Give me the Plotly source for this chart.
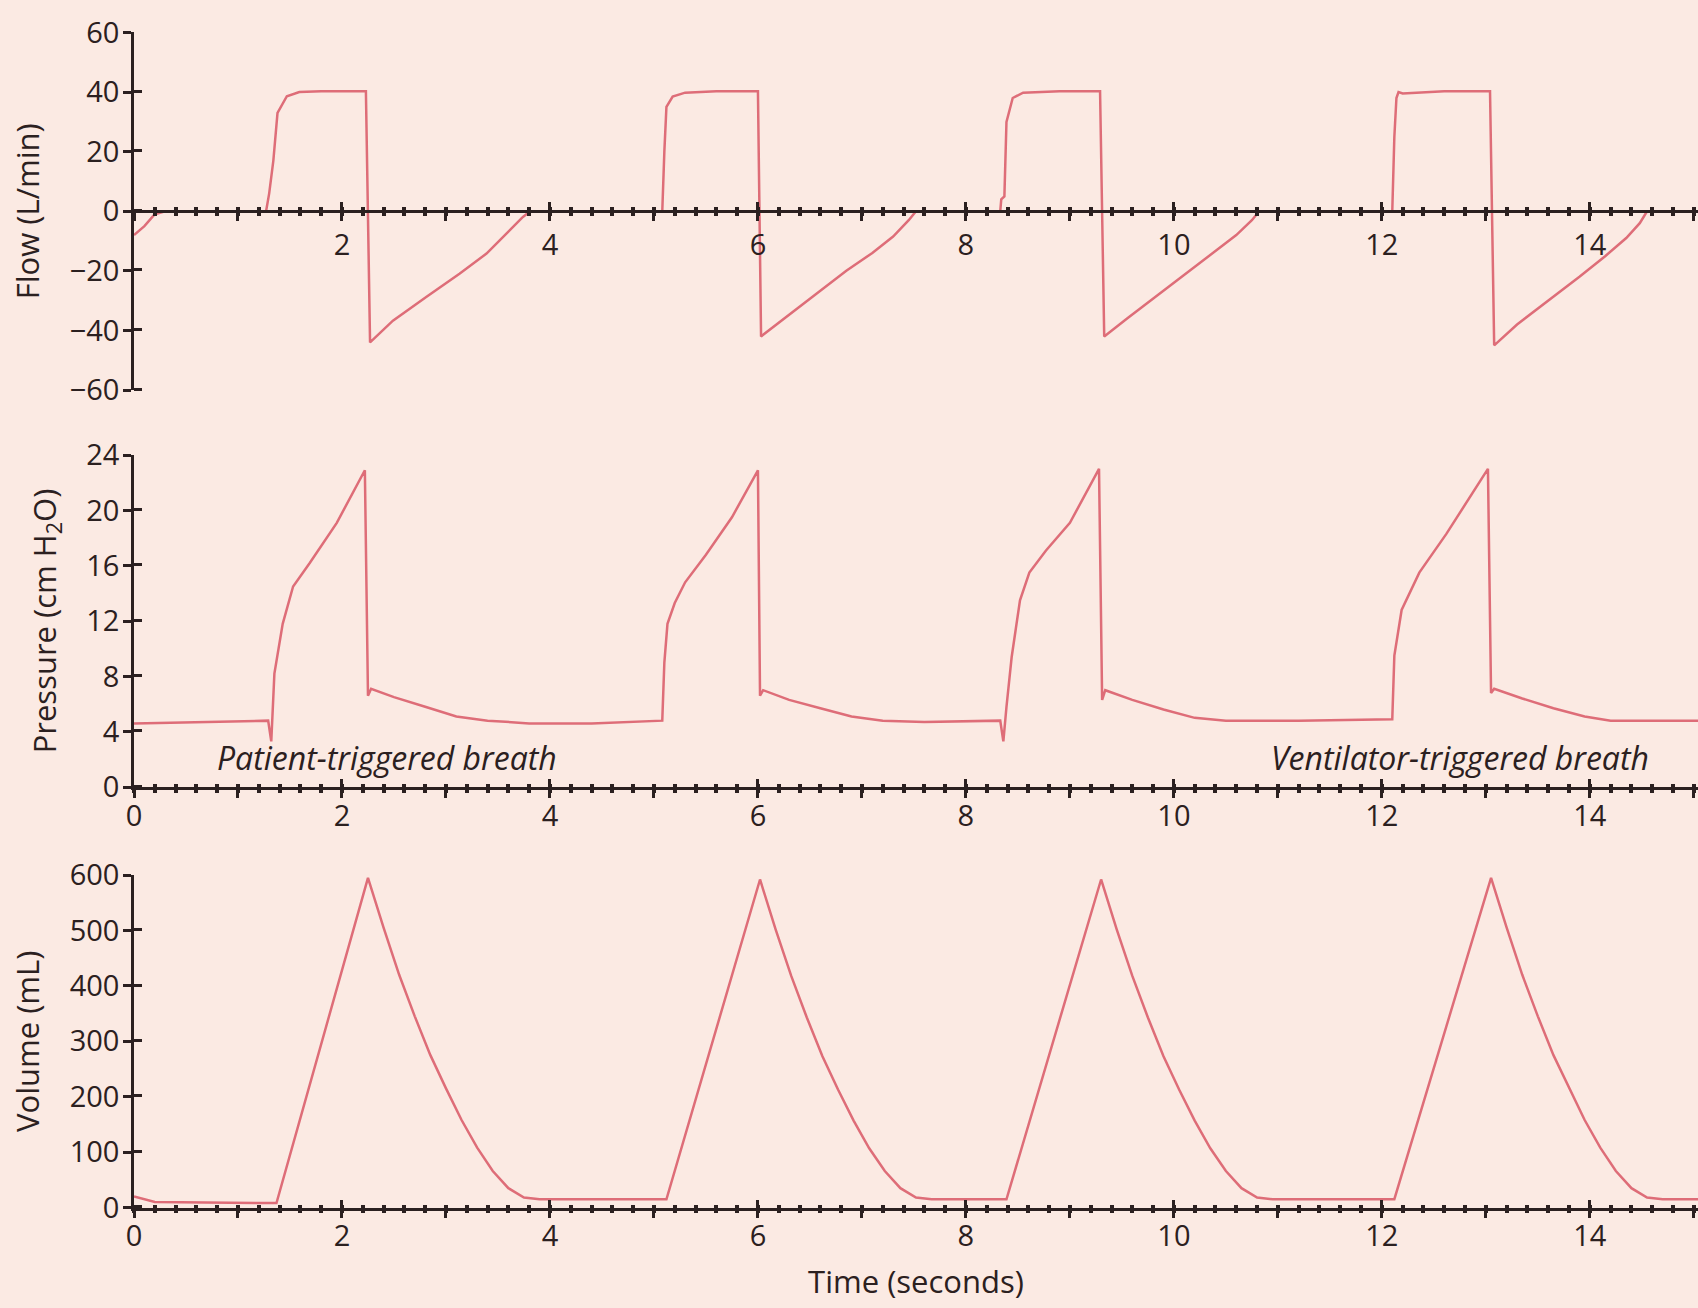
import plotly.graph_objects as go

# ---------------- data ----------------
flow_time = [0.00, 0.10, 0.20, 0.30, 1.27, 1.30, 1.34, 1.38, 1.47, 1.59, 1.80, 2.23, 2.27, 2.49, 2.81, 3.13, 3.39, 3.58, 3.74, 3.81,
             5.08, 5.10, 5.12, 5.18, 5.30, 5.60, 6.00, 6.03, 6.25, 6.55, 6.85, 7.10, 7.30, 7.45, 7.52,
             8.33, 8.34, 8.37, 8.39, 8.45, 8.55, 8.90, 9.29, 9.33, 9.55, 9.85, 10.15, 10.40, 10.60, 10.75, 10.82,
             12.10, 12.12, 12.14, 12.16, 12.20, 12.60, 13.04, 13.08, 13.30, 13.60, 13.90, 14.15, 14.35, 14.48, 14.55, 15.04]
flow_value = [-8, -5, -1, 0, 0, 6, 17, 33, 38.6, 40, 40.3, 40.3, -44, -36.7, -28.8, -21, -14.2, -7.5, -1.9, 0,
              0, 20, 35, 38.5, 39.8, 40.3, 40.3, -42, -36, -28, -20, -14, -8.5, -3, 0,
              0, 4, 5, 30, 38, 39.8, 40.3, 40.3, -42, -36, -28, -20, -13.5, -8, -3, 0,
              0, 25, 38, 40, 39.5, 40.3, 40.3, -45, -38, -30, -22, -15, -9, -4, 0, 0]

pressure_time = [0.00, 0.60, 1.29, 1.32, 1.35, 1.43, 1.53, 1.69, 1.95, 2.22, 2.25, 2.28, 2.50, 2.80, 3.10, 3.40, 3.80, 4.40,
                 5.08, 5.10, 5.13, 5.20, 5.30, 5.50, 5.75, 6.00, 6.02, 6.05, 6.30, 6.60, 6.90, 7.20, 7.60,
                 8.33, 8.36, 8.39, 8.44, 8.52, 8.61, 8.77, 9.00, 9.28, 9.31, 9.34, 9.60, 9.90, 10.20, 10.50, 11.20,
                 12.10, 12.12, 12.19, 12.36, 12.62, 13.02, 13.05, 13.08, 13.35, 13.65, 13.95, 14.20, 14.60, 15.04]
pressure_value = [4.6, 4.7, 4.8, 3.3, 8.2, 11.8, 14.5, 16.2, 19.1, 22.9, 6.6, 7.1, 6.5, 5.8, 5.1, 4.8, 4.6, 4.6,
                  4.8, 9.0, 11.8, 13.3, 14.8, 16.8, 19.5, 22.9, 6.6, 7.0, 6.3, 5.7, 5.1, 4.8, 4.7,
                  4.8, 3.3, 5.8, 9.4, 13.5, 15.5, 17.1, 19.1, 23.0, 6.3, 7.0, 6.3, 5.6, 5.0, 4.8, 4.8,
                  4.9, 9.5, 12.8, 15.5, 18.3, 23.0, 6.8, 7.1, 6.4, 5.7, 5.1, 4.8, 4.8, 4.8]

volume_time = [0.00, 0.20, 1.37, 2.25, 2.40, 2.55, 2.70, 2.85, 3.00, 3.15, 3.30, 3.45, 3.60, 3.75, 3.90,
               5.12, 6.02, 6.17, 6.32, 6.47, 6.62, 6.77, 6.92, 7.07, 7.22, 7.37, 7.52, 7.67,
               8.39, 9.30, 9.45, 9.60, 9.75, 9.90, 10.05, 10.20, 10.35, 10.50, 10.65, 10.80, 10.95,
               12.12, 13.05, 13.20, 13.35, 13.50, 13.65, 13.80, 13.95, 14.10, 14.25, 14.40, 14.55, 14.70, 15.04]
volume_value = [20, 10, 8, 595, 505, 420, 345, 275, 215, 158, 108, 66, 35, 18, 15,
                15, 592, 502, 418, 343, 273, 213, 157, 107, 66, 35, 18, 15,
                15, 592, 502, 418, 343, 273, 213, 157, 107, 66, 35, 18, 15,
                15, 595, 505, 420, 345, 275, 215, 158, 108, 66, 35, 18, 15, 15]

time_tick_values = [0, 1, 2, 3, 4, 5, 6, 7, 8, 9, 10, 11, 12, 13, 14, 15]
flow_time_labels = ["", "", "2", "", "4", "", "6", "", "8", "", "10", "", "12", "", "14", ""]
time_labels = ["0", "", "2", "", "4", "", "6", "", "8", "", "10", "", "12", "", "14", ""]

annotation_texts = ["Patient-triggered breath", "Ventilator-triggered breath"]
annotation_x = [2.43, 12.75]
annotation_y = [2.1, 2.1]

# ---------------- styling ----------------
BG = "#fbeae3"
LINE = "#de6d78"
AX = "#2b2020"
FONT = "Open Sans"
TICKFONT = dict(family=FONT, size=29, color=AX)
TITLEFONT = dict(family=FONT, size=31, color=AX)

x_range = [0, 15.04]
flow_dom = [0.7018, 0.9752]
pres_dom = [0.3983, 0.6521]
vol_dom = [0.0768, 0.3310]
flow_zero = (flow_dom[0] + flow_dom[1]) / 2

fig = go.Figure()
line_style = dict(color=LINE, width=2.5)
fig.add_trace(go.Scatter(x=flow_time, y=flow_value, xaxis="x", yaxis="y", mode="lines", line=line_style,
                         showlegend=False, hoverinfo="skip"))
fig.add_trace(go.Scatter(x=pressure_time, y=pressure_value, xaxis="x2", yaxis="y2", mode="lines", line=line_style,
                         showlegend=False, hoverinfo="skip"))
fig.add_trace(go.Scatter(x=volume_time, y=volume_value, xaxis="x3", yaxis="y3", mode="lines", line=line_style,
                         showlegend=False, hoverinfo="skip"))
# empty traces that carry the overlay x axes (tick marks on the upper side of each time axis)
for xa, ya in (("x4", "y"), ("x5", "y2"), ("x6", "y3")):
    fig.add_trace(go.Scatter(x=[None], y=[None], xaxis=xa, yaxis=ya, mode="lines",
                             showlegend=False, hoverinfo="skip"))


def xaxis(ticks, labels, show_labels, standoff, **kw):
    d = dict(range=x_range, showgrid=False, zeroline=False, showline=True, linecolor=AX, linewidth=2.5,
             tickmode="array", tickvals=time_tick_values, ticktext=labels, showticklabels=show_labels,
             ticks=ticks, ticklen=8, tickwidth=2.5, tickcolor=AX, tickfont=TICKFONT,
             ticklabelstandoff=standoff,
             minor=dict(tickmode="linear", tick0=0, dtick=0.2, ticks=ticks, ticklen=3, tickwidth=4,
                        tickcolor=AX, showgrid=False),
             automargin=False, fixedrange=True)
    d.update(kw)
    return d


def yaxis(rng, dtick, title, **kw):
    # major ticks outside; minor ticks (same spacing, shifted by a hair) inside -> crossing tick marks
    d = dict(range=rng, showgrid=False, zeroline=False, showline=True, linecolor=AX, linewidth=2.5,
             tickmode="linear", tick0=rng[0], dtick=dtick,
             ticks="outside", ticklen=8, tickwidth=2.5, tickcolor=AX, tickfont=TICKFONT,
             ticklabelstandoff=-2,
             minor=dict(tickmode="linear", tick0=rng[0] + dtick * 0.015, dtick=dtick, ticks="inside",
                        ticklen=8, tickwidth=2.5, tickcolor=AX, showgrid=False),
             title=dict(text=title, font=TITLEFONT, standoff=21),
             automargin=False, fixedrange=True)
    d.update(kw)
    return d


layout = dict(
    width=1698, height=1308,
    margin=dict(l=134, r=0, t=0, b=0),
    paper_bgcolor=BG, plot_bgcolor=BG,
    template="none",
    showlegend=False,
    font=dict(family=FONT, color=AX),
    # flow panel
    xaxis=xaxis("outside", flow_time_labels, True, -1, domain=[0, 1], anchor="free", position=flow_zero),
    yaxis=yaxis([-60, 60], 20, "Flow (L/min)", domain=flow_dom, anchor="x"),
    xaxis4=xaxis("inside", flow_time_labels, False, 0, overlaying="x", anchor="free", position=flow_zero),
    # pressure panel
    xaxis2=xaxis("outside", time_labels, True, -7, domain=[0, 1], anchor="y2"),
    yaxis2=yaxis([0, 24], 4, "Pressure (cm H<sub>2</sub>O)", domain=pres_dom, anchor="x2"),
    xaxis5=xaxis("inside", time_labels, False, 0, overlaying="x2", anchor="y2"),
    # volume panel
    xaxis3=xaxis("outside", time_labels, True, -7, domain=[0, 1], anchor="y3",
                 title=dict(text="Time (seconds)", font=TITLEFONT, standoff=19)),
    yaxis3=yaxis([0, 600], 100, "Volume (mL)", domain=vol_dom, anchor="x3"),
    xaxis6=xaxis("inside", time_labels, False, 0, overlaying="x3", anchor="y3"),
)
fig.update_layout(**layout)

for txt, ax, ay in zip(annotation_texts, annotation_x, annotation_y):
    fig.add_annotation(x=ax, y=ay, xref="x2", yref="y2", text=txt, showarrow=False,
                       font=dict(family=FONT, size=32, color=AX, style="italic"),
                       xanchor="center", yanchor="middle")

fig.write_html("out.html", config={"displayModeBar": False},
               post_script="document.body.style.margin='0';document.body.style.overflow='hidden';"
                           "document.body.style.background='" + BG + "';")
